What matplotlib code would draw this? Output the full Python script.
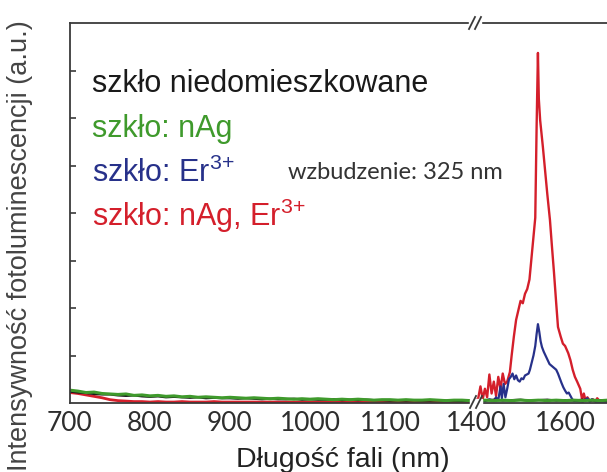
import matplotlib
matplotlib.use("Agg")
import matplotlib.pyplot as plt
import numpy as np

plt.rcParams['font.family'] = ['Liberation Sans', 'DejaVu Sans']
plt.rcParams['mathtext.fontset'] = 'custom'
plt.rcParams['mathtext.rm'] = 'Liberation Sans'
plt.rcParams['mathtext.it'] = 'Liberation Sans'

# Wavelength grid of the visible range (nm) and photoluminescence, arbitrary units
lam_left = np.arange(700, 1201, 10)

green_left = [0.27, 0.25, 0.22, 0.23, 0.20, 0.19, 0.18, 0.19, 0.16, 0.17,
              0.15, 0.16, 0.14, 0.15, 0.13, 0.14, 0.12, 0.13, 0.12, 0.11,
              0.12, 0.11, 0.10, 0.11, 0.10, 0.09, 0.10, 0.09, 0.08, 0.09,
              0.08, 0.09, 0.08, 0.07, 0.08, 0.07, 0.08, 0.07, 0.06, 0.07,
              0.07, 0.06, 0.07, 0.06, 0.06, 0.07, 0.06, 0.05, 0.06, 0.06,
              0.05]
black_left = [0.24, 0.22, 0.21, 0.19, 0.18, 0.18, 0.16, 0.15, 0.16, 0.14,
              0.13, 0.14, 0.12, 0.13, 0.12, 0.11, 0.12, 0.10, 0.11, 0.10,
              0.10, 0.09, 0.10, 0.09, 0.08, 0.09, 0.08, 0.08, 0.09, 0.07,
              0.08, 0.07, 0.07, 0.08, 0.06, 0.07, 0.06, 0.07, 0.06, 0.06,
              0.05, 0.06, 0.05, 0.06, 0.05, 0.05, 0.06, 0.05, 0.05, 0.04,
              0.05]
red_left = [0.22, 0.20, 0.17, 0.14, 0.11, 0.07, 0.05, 0.04, 0.03, 0.03,
            0.02, 0.03, 0.02, 0.02, 0.03, 0.02, 0.02, 0.02, 0.03, 0.02,
            0.02, 0.02, 0.02, 0.02, 0.02, 0.02, 0.02, 0.02, 0.02, 0.02,
            0.02, 0.02, 0.02, 0.02, 0.02, 0.02, 0.02, 0.02, 0.02, 0.02,
            0.02, 0.02, 0.02, 0.02, 0.02, 0.02, 0.02, 0.02, 0.02, 0.02,
            0.02]

lam_red = [1400, 1405, 1410, 1415, 1420, 1425, 1430, 1435, 1440, 1445,
           1450, 1455, 1460, 1465, 1470, 1476, 1480, 1485, 1490, 1495,
           1500, 1505, 1510, 1515, 1520, 1525, 1530, 1533, 1536, 1539,
           1541, 1544, 1550, 1555, 1560, 1566, 1570, 1575, 1580, 1584,
           1590, 1595, 1600, 1607, 1612, 1617, 1622, 1627, 1634, 1638,
           1642, 1646, 1650, 1656, 1662, 1668, 1672, 1678, 1685, 1695]
red_right = [0.05, 0.10, 0.35, 0.08, 0.30, 0.12, 0.60, 0.20, 0.45, 0.15,
             0.55, 0.30, 0.62, 0.40, 0.45, 0.65, 1.00, 1.40, 1.75, 1.95,
             2.15, 2.10, 2.30, 2.40, 2.60, 3.10, 3.60, 3.90, 5.80, 7.37,
             6.40, 5.95, 5.40, 4.90, 4.40, 3.85, 3.35, 2.75, 2.10, 1.60,
             1.40, 1.25, 1.20, 1.05, 0.90, 0.70, 0.55, 0.45, 0.30, 0.08,
             0.20, 0.05, 0.12, 0.04, 0.08, 0.03, 0.10, 0.04, 0.06, 0.03]

lam_blue = [1400, 1410, 1420, 1430, 1440, 1445, 1450, 1455, 1458, 1462,
            1466, 1470, 1474, 1478, 1482, 1486, 1490, 1494, 1498, 1502,
            1506, 1510, 1514, 1518, 1521, 1525, 1529, 1533, 1536, 1539,
            1542, 1545, 1548, 1552, 1556, 1560, 1565, 1570, 1575, 1580,
            1584, 1588, 1592, 1596, 1600, 1604, 1608, 1612, 1616, 1620,
            1630, 1640, 1650, 1655, 1660, 1670, 1695]
blue_right = [0.03, 0.05, 0.04, 0.08, 0.05, 0.12, 0.06, 0.35, 0.10, 0.40,
              0.12, 0.30, 0.50, 0.55, 0.62, 0.50, 0.58, 0.48, 0.45, 0.52,
              0.50, 0.58, 0.60, 0.62, 0.70, 0.85, 1.00, 1.20, 1.45, 1.66,
              1.50, 1.30, 1.18, 1.08, 1.00, 0.92, 0.82, 0.78, 0.74, 0.70,
              0.62, 0.52, 0.42, 0.33, 0.26, 0.20, 0.22, 0.15, 0.08, 0.05,
              0.04, 0.03, 0.10, 0.03, 0.08, 0.03, 0.03]

lam_base = [1400, 1420, 1440, 1460, 1480, 1500, 1520, 1540, 1560, 1580,
            1600, 1620, 1640, 1660, 1680, 1695]
green_right = [0.05, 0.06, 0.05, 0.06, 0.05, 0.06, 0.05, 0.06, 0.05, 0.06,
               0.05, 0.06, 0.05, 0.06, 0.05, 0.06]
black_right = [0.06, 0.05, 0.07, 0.05, 0.06, 0.07, 0.05, 0.06, 0.07, 0.05,
               0.06, 0.05, 0.07, 0.05, 0.06, 0.05]

left_ticks = [700, 800, 900, 1000, 1100]
right_ticks = [1400, 1600]

series_labels = ["szkło niedomieszkowane", "szkło: nAg",
                 "szkło: Er$^{\\mathrm{3{+}}}$", "szkło: nAg, Er$^{\\mathrm{3{+}}}$"]
series_colors = ["#1a1a1a", "#3f9a2c", "#27318a", "#d41f2b"]

W, H = 607, 472
fig = plt.figure(figsize=(W / 100, H / 100), dpi=100)

x0, xb, y0, y1 = 70, 474, 403, 23
bottom = 1 - y0 / H
height = (y0 - y1) / H
ax1 = fig.add_axes([x0 / W, bottom, (xb - x0) / W, height])
ax2 = fig.add_axes([xb / W, bottom, (W - xb) / W + 0.01, height])

spine_col = "#3a3a3a"
for ax in (ax1, ax2):
    ax.set_ylim(0, 8)
    for side in ("top", "bottom", "left"):
        ax.spines[side].set_color(spine_col)
        ax.spines[side].set_linewidth(1.3)
    ax.spines["right"].set_visible(False)
    ax.tick_params(axis="x", length=0, pad=6)

ax2.spines["left"].set_visible(False)
ax2.set_yticks([])
ax1.set_yticks([1, 2, 3, 4, 5, 6, 7])
ax1.set_yticklabels([])
ax1.tick_params(axis="y", direction="in", length=4, width=1.2, color=spine_col)

ax1.set_xlim(700, 1205)
ax2.set_xlim(1395.5, 1694 + 0.01 * W / 0.445)
ax1.set_xticks(left_ticks)
ax2.set_xticks(right_ticks)
tick_style = dict(fontfamily="Lato", fontsize=19, color="#2e2e2e")
ax1.set_xticklabels([str(t) for t in left_ticks], **tick_style)
ax2.set_xticklabels([str(t) for t in right_ticks], **tick_style)

# spectra: red and blue first, undoped and nAg glass on top
ax1.plot(lam_left, red_left, color=series_colors[3], lw=2.0)
ax1.plot(lam_left, black_left, color=series_colors[0], lw=1.6)
ax1.plot(lam_left, green_left, color=series_colors[1], lw=2.2)
ax2.plot(lam_red, red_right, color=series_colors[3], lw=1.7)
ax2.plot(lam_blue, blue_right, color=series_colors[2], lw=1.6)
ax2.plot(lam_base, black_right, color=series_colors[0], lw=1.6)
ax2.plot(lam_base, green_right, color=series_colors[1], lw=2.2)

# axis-break marks on the top and bottom edges
def break_mark(xc, yc):
    fig.patches.append(plt.Rectangle(((xc - 6) / W, 1 - (yc + 3) / H), 12 / W, 6 / H,
                                     transform=fig.transFigure, color="white",
                                     zorder=5))
    for dx in (-3, 3):
        fig.lines.append(plt.Line2D([(xc + dx - 3) / W, (xc + dx + 3) / W],
                                    [1 - (yc + 6) / H, 1 - (yc - 6) / H],
                                    transform=fig.transFigure, color=spine_col,
                                    lw=1.3, zorder=6))

break_mark(475, 23)
break_mark(476, 402)

# legend written as coloured text
ys = [92, 137, 182, 226]
for lbl, col, yb in zip(series_labels, series_colors, ys):
    fig.text(92 / W, 1 - yb / H, lbl, color=col, fontsize=22, va="baseline")

fig.text(288 / W, 1 - 179 / H, "wzbudzenie: 325 nm", color="#333333",
         fontsize=17, va="baseline", fontfamily="Lato")

fig.text(343 / W, 1 - 467 / H, "Długość fali (nm)", color="#222222",
         fontsize=20.5, ha="center", va="baseline")
fig.text(20 / W, 1 - 246 / H, "Intensywność fotoluminescencji (a.u.)",
         color="#444444", fontsize=19.5, rotation=90, ha="center", va="center")

fig.savefig("out.png", dpi=100)
